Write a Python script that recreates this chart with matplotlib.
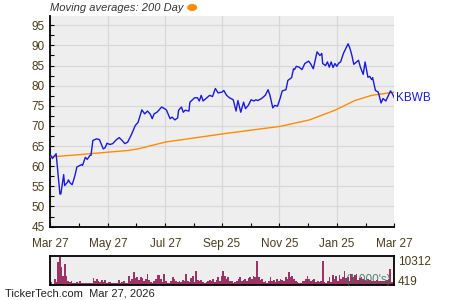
import matplotlib
matplotlib.use("Agg")
import matplotlib.pyplot as plt
import numpy as np

plt.rcParams["font.family"] = ["Liberation Sans", "DejaVu Sans"]

# days since Mar 27, 2025
price_days = [0, 2, 6, 10, 11, 14, 15, 18, 19, 21, 23, 26, 28, 33, 34, 37, 39, 42, 43, 45,
              49, 52, 56, 58, 60, 63, 66, 70, 73, 76, 79, 82, 86, 90, 93, 97, 100, 103, 106, 108,
              110, 113, 115, 118, 121, 123, 127, 129, 132, 135, 136, 139, 141, 143, 147, 148, 153, 156, 158, 160,
              162, 166, 169, 172, 175, 178, 182, 184, 187, 190, 194, 197, 199, 202, 205, 207, 210, 213, 216, 218,
              220, 224, 228, 231, 233, 236, 238, 241, 244, 246, 250, 252, 256, 258, 259, 261, 264, 267, 270, 274,
              276, 279, 281, 283, 286, 288, 289, 292, 294, 296, 298, 300, 302, 304, 306, 308, 311, 313, 316, 318,
              320, 322, 325, 327, 329, 332, 334, 337, 339, 341, 342, 345, 348, 351, 353, 356, 358, 361, 363, 365]
price = [62.8, 61.9, 63.1, 53.1, 53.1, 57.9, 55.2, 56.0, 56.6, 55.8, 55.4, 57.7, 59.8, 60.4, 60.2, 62.2, 61.7, 62.7, 62.7, 66.4,
         66.8, 66.6, 64.3, 64.6, 65.7, 65.4, 65.6, 66.6, 67.1, 66.4, 65.6, 66.0, 67.9, 70.1, 70.9, 74.0, 73.0, 73.7, 72.9, 71.8,
         73.0, 73.4, 73.9, 74.7, 74.3, 74.0, 71.8, 72.2, 71.5, 72.0, 73.9, 74.7, 73.4, 73.9, 73.7, 75.9, 77.0, 77.0, 76.2, 77.6,
         76.2, 77.0, 77.6, 77.3, 79.3, 78.2, 78.4, 78.8, 77.6, 77.0, 76.5, 73.7, 76.3, 73.4, 75.9, 74.3, 75.1, 76.5, 76.2, 76.5,
         76.3, 76.8, 77.6, 79.0, 77.6, 74.5, 75.1, 74.9, 77.0, 78.7, 79.0, 81.3, 82.0, 84.2, 84.0, 84.8, 84.6, 84.0, 85.5, 86.1,
         85.5, 84.2, 86.3, 88.4, 87.5, 88.0, 85.5, 85.0, 85.9, 84.6, 85.9, 84.5, 85.5, 84.8, 85.6, 85.9, 88.0, 89.0, 90.4, 89.2,
         87.5, 85.3, 85.9, 86.3, 84.6, 82.8, 85.9, 82.1, 82.3, 81.5, 82.0, 78.8, 78.4, 75.7, 76.8, 76.2, 77.2, 78.7, 78.0, 77.0]

ma_days = [0, 32, 82, 93, 122, 185, 244, 275, 302, 323, 341, 365]
ma200 = [62.3, 62.9, 63.9, 64.3, 66.0, 68.1, 69.9, 71.5, 73.9, 76.3, 77.6, 78.4]

# daily volume, thousands of shares
volume = [970, 360, 2180, 970, 8250, 10312, 6430, 3400, 7640, 3400, 1580, 970, 1330, 610, 610, 970, 610, 1580,
          610, 610, 610, 610, 610, 610, 610, 2550, 1330, 2180, 1580, 970, 1820, 970, 1820, 730, 970, 970,
          610, 610, 730, 730, 1820, 610, 970, 1330, 850, 850, 3400, 1580, 2180, 4610, 2550, 3030, 1820, 3030,
          2550, 1580, 2180, 4000, 1820, 970, 610, 1580, 2180, 3760, 3760, 2180, 970, 4000, 1330, 610, 850, 1580,
          3030, 2180, 1330, 970, 1580, 970, 1820, 1330, 4000, 1580, 970, 2550, 3400, 970, 5220, 1820, 1580, 1820,
          970, 610, 970, 1330, 1820, 1330, 2180, 970, 1820, 3030, 1330, 3400, 4970, 3400, 2180, 2790, 1580, 1330,
          850,
          970, 1580, 2180, 3030, 1580, 1820, 2180, 1330, 2550, 3030, 2180, 3400, 2790, 8610, 2790, 1820, 2180, 970,
          1330, 610, 1330, 2790, 1330, 1820, 970, 2180, 1330, 2180, 1820, 1330, 2790, 2180, 4610, 2790, 3400, 2180,
          1330, 970, 610, 850, 1330, 1580, 2180, 3400, 2180, 1330, 1820, 2180, 970, 1330, 970, 1330, 8610, 970,
          610, 1580, 2790, 970, 3760, 2180, 3400, 1330, 3760, 2180, 2790, 4970, 2550, 3030, 1580, 4000, 3030, 3760,
          4000, 1820, 2550, 2790, 2180, 1820, 1580, 2180, 1820, 1580, 1330, 1580, 1820, 1330, 1580, 1330, 1580, 1330,
          1820, 2180, 5820, 970, 360, 360]

tick_days = [0, 61, 122, 182, 243, 304, 365]
tick_labels = ["Mar 27", "May 27", "Jul 27", "Sep 25", "Nov 25", "Jan 25", "Mar 27"]
minor_days = [30, 91, 152, 213, 273, 335]

txt = "#4a3b1c"
bg = "#eeeeee"
grid = "#d8d8d8"

fig = plt.figure(figsize=(4.5, 3), dpi=100)
ax = fig.add_axes([0.1122, 0.2433, 0.764, 0.7033])
ax.set_facecolor(bg)
ax.plot(ma_days, ma200, color="#ff8c00", lw=1.0, zorder=3)
ax.plot(price_days, price, color="#1a1add", lw=1.0, zorder=4)
ax.set_xlim(0, 365)
ax.set_ylim(44.9, 97.3)
ax.set_yticks(np.arange(45, 96, 5))
ax.set_yticks(np.arange(47.5, 96, 5), minor=True)
ax.set_xticks(tick_days)
ax.set_xticklabels(tick_labels)
ax.set_xticks(minor_days, minor=True)
ax.grid(True, which="major", color=grid, lw=0.9, zorder=0)
ax.set_axisbelow(True)
for s in ["top", "right"]:
    ax.spines[s].set_visible(False)
for s in ["left", "bottom"]:
    ax.spines[s].set_linewidth(1.3)
ax.tick_params(which="both", direction="in", colors="black", labelcolor=txt, labelsize=8.5)
ax.tick_params(which="major", length=3, width=0.8)
ax.tick_params(which="minor", length=3, width=0.8)
ax.tick_params(axis="x", pad=8)
ax.tick_params(axis="y", pad=4)
ax.text(1.005, (price[-1] - 44.9) / (97.3 - 44.9), "KBWB", transform=ax.transAxes,
        color="#1a1add", fontsize=8.5, va="center", ha="left")

fig.text(0.111, 0.973, "Moving averages: 200 Day", fontsize=8, style="italic", color="#333333",
         va="center", ha="left")
fig.add_artist(plt.Circle((0.427, 0.975), 0.0095, transform=fig.transFigure, color="#ff8c00",
                          clip_on=False))

vax = fig.add_axes([0.1122, 0.05, 0.764, 0.0967])
vax.set_facecolor(bg)
n = len(volume)
vdays = np.linspace(0, 365, n)
vax.bar(vdays, volume, width=365 / n * 1.05, color="#9b3365", linewidth=0, align="edge")
vax.set_xlim(0, 365)
vax.set_ylim(0, max(volume) * 1.02)
vax.set_xticks([])
vax.set_yticks([])
for s in vax.spines.values():
    s.set_linewidth(1.3)
vax.text(1.01, 0.8, "10312", transform=vax.transAxes, fontsize=8.5, color=txt, va="center", ha="left")
vax.text(1.01, 0.12, "419", transform=vax.transAxes, fontsize=8.5, color=txt, va="center", ha="left")
vax.text(0.99, 0.18, "(1,000's)", transform=vax.transAxes, fontsize=8.5, color="#3f6e55", alpha=0.85,
         va="center", ha="right")

fig.text(0.011, 0.02, "TickerTech.com  Mar 27, 2026", fontsize=8, color="#222222", va="center", ha="left")

fig.savefig("out.png", dpi=100)
